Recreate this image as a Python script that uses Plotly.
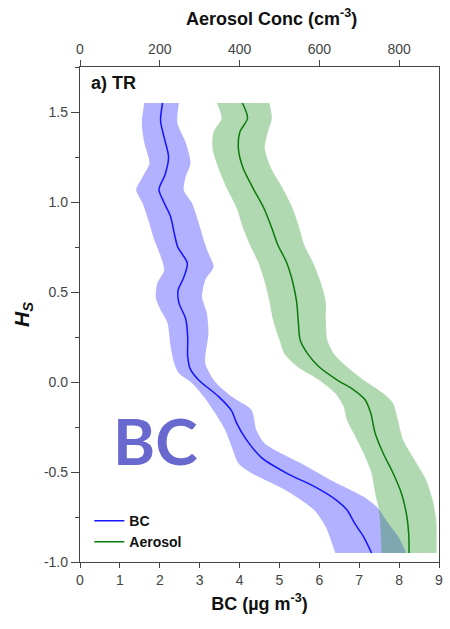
import plotly.graph_objects as go

# ---------------- data ----------------
# BC mean profile (Hs, BC in ug m-3)
bc_hs = [1.55, 1.45, 1.35, 1.25, 1.15, 1.07, 1.00, 0.92, 0.83, 0.75, 0.66, 0.58, 0.51, 0.44,
         0.35, 0.25, 0.14, 0.07, 0.01, -0.08, -0.16, -0.23, -0.32, -0.42, -0.51, -0.58,
         -0.66, -0.71, -0.79, -0.86, -0.95]
bc_mean = [2.07, 2.02, 2.12, 2.22, 2.13, 1.98, 2.10, 2.27, 2.36, 2.45, 2.69, 2.60, 2.46, 2.48,
           2.65, 2.70, 2.70, 2.77, 2.98, 3.47, 3.80, 3.93, 4.17, 4.55, 5.21, 5.87,
           6.45, 6.69, 6.90, 7.11, 7.31]
# BC band lower edge
bc_lo_hs = [1.55, 1.44, 1.33, 1.215, 1.14, 1.067, 0.993, 0.88, 0.79, 0.70, 0.62, 0.55, 0.47,
            0.40, 0.33, 0.20, 0.104, 0.048, -0.007, -0.081, -0.174, -0.267, -0.359, -0.452,
            -0.50, -0.60, -0.711, -0.80, -0.95]
bc_lo = [1.61, 1.55, 1.61, 1.74, 1.57, 1.41, 1.57, 1.74, 1.86, 2.02, 2.11, 1.94, 1.90,
         2.02, 2.19, 2.27, 2.36, 2.48, 2.81, 3.10, 3.39, 3.64, 3.80, 3.97,
         4.25, 5.15, 5.87, 6.15, 6.40]
# BC band upper edge
bc_hi_hs = [1.55, 1.44, 1.33, 1.215, 1.14, 1.067, 0.993, 0.88, 0.79, 0.715, 0.64, 0.567, 0.474,
            0.382, 0.27, 0.104, 0.0, -0.081, -0.156, -0.267, -0.341, -0.452, -0.544, -0.637,
            -0.693, -0.785, -0.859, -0.95]
bc_hi = [2.48, 2.44, 2.65, 2.77, 2.65, 2.60, 2.81, 2.98, 3.10, 3.22, 3.35, 3.14, 3.06,
         3.18, 3.22, 3.14, 3.39, 3.80, 4.30, 4.42, 4.63, 5.54, 6.28, 7.11,
         7.44, 7.73, 7.98, 8.18]

# Aerosol mean profile (Hs, cm-3)
ae_hs = [1.55, 1.465, 1.39, 1.298, 1.187, 1.076, 0.965, 0.854, 0.761, 0.669, 0.557, 0.446,
         0.344, 0.233, 0.159, 0.085, 0.011, -0.044, -0.10, -0.174, -0.285, -0.396, -0.507,
         -0.619, -0.729, -0.841, -0.95]
ae_mean = [407, 420, 401, 397, 409, 434, 461, 481, 496, 517, 533, 543,
           547, 552, 570, 599, 645, 686, 715, 729, 740, 760, 785,
           806, 818, 824, 825]
ae_lo_hs = [1.55, 1.465, 1.39, 1.298, 1.187, 1.076, 0.965, 0.854, 0.761, 0.669, 0.557, 0.446,
            0.344, 0.233, 0.159, 0.085, 0.011, -0.063, -0.137, -0.211, -0.285, -0.396, -0.507,
            -0.619, -0.693, -0.767, -0.95]
ae_lo = [343, 355, 335, 332, 347, 368, 393, 409, 426, 446, 463, 475,
         484, 500, 512, 545, 599, 640, 661, 669, 686, 711, 731,
         740, 748, 752, 756]
ae_hi_hs = [1.55, 1.465, 1.39, 1.298, 1.187, 1.076, 0.965, 0.854, 0.761, 0.669, 0.557, 0.446,
            0.344, 0.233, 0.159, 0.085, 0.011, -0.063, -0.119, -0.211, -0.322, -0.433, -0.544,
            -0.656, -0.767, -0.95]
ae_hi = [475, 481, 471, 463, 479, 508, 533, 550, 562, 583, 603, 616,
         616, 620, 636, 669, 711, 760, 785, 797, 810, 839, 868,
         884, 893, 894]

bc_ticks = list(range(0, 10))
ae_ticks = [0, 200, 400, 600, 800]
hs_ticks = [-1.0, -0.5, 0.0, 0.5, 1.0, 1.5]
hs_ticktext = ["-1.0", "-0.5", "0.0", "0.5", "1.0", "1.5"]

# ---------------- figure ----------------
FONT = "Liberation Sans, Arial, sans-serif"
fig = go.Figure()

edge = dict(width=0, shape="spline", smoothing=0.7)
# BC band (lower edge, then upper edge filled horizontally to it)
fig.add_trace(go.Scatter(x=bc_lo, y=bc_lo_hs, mode="lines", line=edge,
                         showlegend=False, hoverinfo="skip", xaxis="x", yaxis="y"))
fig.add_trace(go.Scatter(x=bc_hi, y=bc_hi_hs, mode="lines", line=edge, fill="tonextx",
                         fillcolor="rgba(70,70,255,0.42)",
                         showlegend=False, hoverinfo="skip", xaxis="x", yaxis="y"))
# Aerosol band
fig.add_trace(go.Scatter(x=ae_lo, y=ae_lo_hs, mode="lines", line=edge,
                         showlegend=False, hoverinfo="skip", xaxis="x2", yaxis="y"))
fig.add_trace(go.Scatter(x=ae_hi, y=ae_hi_hs, mode="lines", line=edge, fill="tonextx",
                         fillcolor="rgba(40,150,40,0.36)",
                         showlegend=False, hoverinfo="skip", xaxis="x2", yaxis="y"))
# mean lines
fig.add_trace(go.Scatter(
    x=bc_mean, y=bc_hs, mode="lines", name="BC",
    line=dict(color="#1414ff", width=1.5, shape="spline", smoothing=0.8), xaxis="x", yaxis="y"))
fig.add_trace(go.Scatter(
    x=ae_mean, y=ae_hs, mode="lines", name="Aerosol",
    line=dict(color="#0a7a0a", width=1.5, shape="spline", smoothing=0.8), xaxis="x2", yaxis="y"))

axis_common = dict(showline=True, linecolor="#444", linewidth=1.3, ticks="outside",
                   tickcolor="#444", tickfont=dict(family=FONT, size=14, color="#444"),
                   showgrid=False, zeroline=False)
title_font = dict(family=FONT, size=18, color="#111")

fig.update_layout(
    width=450, height=629,
    margin=dict(l=80, r=7, t=67, b=67),
    paper_bgcolor="white", plot_bgcolor="white",
    font=dict(family=FONT),
    xaxis=dict(range=[0, 9], tickvals=bc_ticks, ticklen=5,
               title=dict(text="<b>BC (µg m<sup>-3</sup>)</b>", font=title_font, standoff=10),
               mirror=False, **axis_common),
    xaxis2=dict(range=[0, 900], tickvals=ae_ticks, ticklen=6, overlaying="x", side="top",
                **axis_common),
    yaxis=dict(range=[-1.0, 1.75], tickvals=hs_ticks, ticktext=hs_ticktext,
               ticklen=8, mirror=True,
               minor=dict(dtick=0.25, ticklen=4, tickcolor="#444", ticks="outside"),
               title=dict(text="<b><i>H<sub>S</sub></i></b>", font=dict(family=FONT, size=21, color="#111"), standoff=8),
               **axis_common),
    legend=dict(x=0.026, y=0.008, xanchor="left", yanchor="bottom", bgcolor="rgba(0,0,0,0)",
                traceorder="normal",
                font=dict(family=FONT, size=14, color="#111", weight="bold"), tracegroupgap=0),
    showlegend=True,
    annotations=[
        dict(text="<b>Aerosol Conc (cm<sup>-3</sup>)</b>", xref="paper", yref="paper",
             x=0.534, y=1.099, xanchor="center", yanchor="middle", showarrow=False,
             font=title_font),
        dict(text="<b>a) TR</b>", xref="paper", yref="paper", x=0.025, y=0.968, xanchor="left",
             yanchor="middle", showarrow=False, font=dict(family=FONT, size=18, color="#111")),
        dict(text="<b>BC</b>", xref="paper", yref="paper", x=0.21, y=0.245, xanchor="center",
             yanchor="middle", showarrow=False, font=dict(family="Lato, sans-serif", size=64, color="#6868cf")),
    ],
)

fig.write_html("out.html")
